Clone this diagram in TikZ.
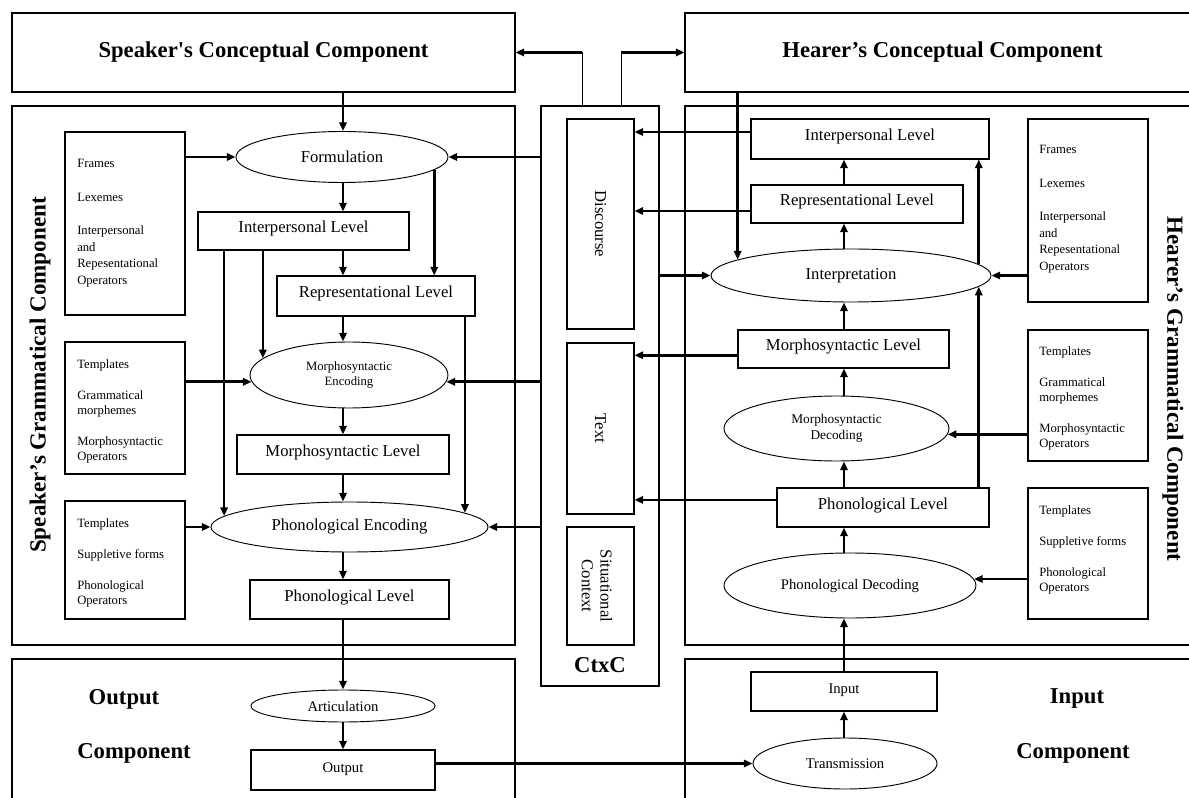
\documentclass[tikz,border=0pt]{standalone}
\usepackage{fontspec}
\setmainfont{Liberation Serif}
\usetikzlibrary{shapes.geometric,arrows.meta,calc}
\begin{document}
\begin{tikzpicture}[x=0.75pt,y=-0.75pt,
  sz/.style 2 args={minimum width=#1*0.75pt,minimum height=#2*0.75pt},
  frame/.style={draw,line width=0.8pt,rectangle,inner sep=0pt},
  ttl/.style={font=\bfseries\fontsize{17}{20}\selectfont},
  lvl/.style={draw,line width=0.8pt,rectangle,inner sep=0pt,font=\fontsize{12.5}{14}\selectfont,text height=8pt,text depth=5pt},
  ell/.style={draw,line width=0.7pt,ellipse,inner sep=0pt,align=center},
  big/.style={font=\fontsize{12.5}{14}\selectfont},
  mid/.style={font=\fontsize{11}{13}\selectfont},
  lexA/.style={anchor=north west,inner sep=0pt,align=left,font=\fontsize{9.5}{12.4}\selectfont},
  lexB/.style={anchor=north west,inner sep=0pt,align=left,font=\fontsize{9.5}{11.25}\selectfont},
  arr/.style={line width=2pt,-{Triangle[length=6.5pt,width=5.5pt]}},
  thin/.style={line width=0.8pt}]
\useasboundingbox (0,0) rectangle (1189,798);
\clip (0,0) rectangle (1189,798);

% ---------- outer frames ----------
\node[frame,sz={503}{79},ttl] (spc) at (263.5,52.5) {Speaker\textquotesingle s Conceptual Component};
\node[frame,sz={515}{79},ttl] (hcc) at (942.5,52.5) {Hearer’s Conceptual Component};
\node[frame,sz={503}{539}] (sgc) at (263.5,375.5) {};
\node[frame,sz={118}{580}] (ctxc) at (600,396) {};
\node[frame,sz={515}{539}] (hgc) at (942.5,375.5) {};
\node[frame,sz={503}{151}] (ocb) at (263.5,734.5) {};
\node[frame,sz={515}{151}] (icb) at (942.5,734.5) {};

\node[rotate=90,font=\bfseries\fontsize{17.3}{20}\selectfont] (sgcT) at (40,375) {Speaker’s Grammatical Component};
\node[rotate=-90,font=\bfseries\fontsize{17.3}{20}\selectfont] (hgcT) at (1173,389) {Hearer’s Grammatical Component};
\node[ttl] (ctxcT) at (600,665) {CtxC};
\node[ttl] (ocT1) at (124,699) {Output};
\node[ttl] (ocT2) at (134,753) {Component};
\node[ttl] (icT1) at (1077,698) {Input};
\node[ttl] (icT2) at (1073,753) {Component};

% ---------- context boxes ----------
\node[frame,sz={67}{210}] (disc) at (600.5,224) {};
\node[frame,sz={67}{171}] (textb) at (600.5,428.5) {};
\node[frame,sz={67}{118}] (sitc) at (600.5,586) {};
\node[rotate=-90,big] (discT) at (disc.center) {Discourse};
\node[rotate=-90,big] (textT) at (textb.center) {Text};
\node[rotate=-90,big,align=center] (sitT) at (597,586) {Situational\\Context};

% ---------- lexicon boxes ----------
\node[frame,sz={120}{183}] (L1) at (125,223.5) {};
\node[frame,sz={120}{132}] (L2) at (125,408) {};
\node[frame,sz={120}{118}] (L3) at (125,560) {};
\node[frame,sz={120}{183}] (R1) at (1088,210.5) {};
\node[frame,sz={120}{131}] (R2) at (1088,395.5) {};
\node[frame,sz={120}{131}] (R3) at (1088,553.5) {};

\node[lexA] (L1T) at (77,159) {Frames\\[12.75pt]Lexemes\\[12.75pt]Interpersonal\\and\\Repesentational\\Operators};
\node[lexB] (L2T) at (77,359) {Templates\\[12pt]Grammatical\\morphemes\\[12pt]Morphosyntactic\\Operators};
\node[lexB] (L3T) at (77,518) {Templates\\[12pt]Suppletive forms\\[12pt]Phonological\\Operators};
\node[lexA] (R1T) at (1039,145) {Frames\\[12.75pt]Lexemes\\[12.75pt]Interpersonal\\and\\Repesentational\\Operators};
\node[lexB] (R2T) at (1039,346) {Templates\\[12pt]Grammatical\\morphemes\\[12pt]Morphosyntactic\\Operators};
\node[lexB] (R3T) at (1039,505) {Templates\\[12pt]Suppletive forms\\[12pt]Phonological\\Operators};

% ---------- speaker side ----------
\node[ell,sz={212}{51},big] (form) at (342,157) {Formulation};
\node[lvl,sz={211}{38}] (iLL) at (303.5,231) {Interpersonal Level};
\node[lvl,sz={198}{40}] (rLL) at (376,296) {Representational Level};
\node[ell,sz={198}{66},font=\fontsize{9.5}{11.5}\selectfont] (mencE) at (349,375) {Morphosyntactic\\Encoding};
\node[lvl,sz={212}{39}] (mLL) at (343,454.5) {Morphosyntactic Level};
\node[ell,sz={277}{50},big] (pencE) at (349.5,527) {Phonological Encoding};
\node[lvl,sz={199}{39}] (pLL) at (349.5,599.5) {Phonological Level};
\node[ell,sz={184}{32},mid] (artic) at (343,706) {Articulation};
\node[lvl,sz={184}{40},mid] (outB) at (343,770) {Output};

% ---------- hearer side ----------
\node[lvl,sz={238}{40}] (iLR) at (870,139) {Interpersonal Level};
\node[lvl,sz={212}{38}] (rLR) at (857,204) {Representational Level};
\node[ell,sz={280}{53},big] (interp) at (851,275.5) {Interpretation};
\node[lvl,sz={211}{38}] (mLR) at (843.5,349) {Morphosyntactic Level};
\node[ell,sz={225}{65},font=\fontsize{10}{12}\selectfont] (mdec) at (836.5,428.5) {Morphosyntactic\\Decoding};
\node[lvl,sz={212}{39}] (pLR) at (883,507.5) {Phonological Level};
\node[ell,sz={252}{65},mid] (pdec) at (850,585.5) {Phonological Decoding};
\node[lvl,sz={186}{39},mid] (inB) at (844,691.5) {Input};
\node[ell,sz={184}{51},mid] (trans) at (845,763.5) {Transmission};

\coordinate (ls) at (343,0);
\coordinate (rs) at (844,0);

% ---------- speaker connectors ----------
\draw[arr] (spc.south -| ls) -- (form.north -| ls);
\draw[arr] (form.south -| ls) -- (iLL.north -| ls);
\draw[arr] (iLL.south -| ls) -- (rLL.north -| ls);
\draw[arr] (form.-8) -- (form.-8 |- rLL.north);
\draw[arr] (rLL.south -| ls) -- (mencE.north -| ls);
\draw[arr] (iLL.south -| mencE.169) -- (mencE.169);
\draw[arr] (iLL.south -| pencE.175) -- (pencE.175);
\draw[arr] (rLL.south -| pencE.7) -- (pencE.7);
\draw[arr] (mencE.south -| ls) -- (mLL.north -| ls);
\draw[arr] (mLL.south -| ls) -- (pencE.north -| ls);
\draw[arr] (pencE.south -| ls) -- (pLL.north -| ls);
\draw[arr] (pLL.south -| ls) -- (artic.north -| ls);
\draw[arr] (artic.south -| ls) -- (outB.north -| ls);
\draw[arr] (outB.east |- trans.west) -- (trans.west);

\draw[arr] (L1.east |- form.west) -- (form.west);
\draw[arr] (ctxc.west |- form.east) -- (form.east);
\draw[arr] (L2.east |- mencE.184) -- (mencE.184);
\draw[arr] (ctxc.west |- mencE.-4) -- (mencE.-4);
\draw[arr] (L3.east |- pencE.west) -- (pencE.west);
\draw[arr] (ctxc.west |- pencE.east) -- (pencE.east);

% ---------- context to conceptual ----------
\coordinate (c1) at ($(ctxc.north west)!0.35!(ctxc.north east)$);
\coordinate (c2) at ($(ctxc.north west)!0.68!(ctxc.north east)$);
\draw[thin] (c1) -- (c1 |- spc.east);
\draw[arr] (c1 |- spc.east) -- (spc.east);
\draw[thin] (c2) -- (c2 |- hcc.west);
\draw[arr] (c2 |- hcc.west) -- (hcc.west);

% ---------- hearer connectors ----------
\draw[arr] (trans.north -| rs) -- (inB.south -| rs);
\draw[arr] (inB.north -| rs) -- (pdec.south -| rs);
\draw[arr] (pdec.north -| rs) -- (pLR.south -| rs);
\draw[arr] (pLR.north -| rs) -- (mdec.south -| rs);
\draw[arr] (mdec.north -| rs) -- (mLR.south -| rs);
\draw[arr] (mLR.north -| rs) -- (interp.south -| rs);
\draw[arr] (interp.north -| rs) -- (rLR.south -| rs);
\draw[arr] (rLR.north -| rs) -- (iLR.south -| rs);
\draw[arr] (pLR.north -| interp.-5) -- (interp.-5);
\draw[arr] (interp.5) -- (interp.5 |- iLR.south);
\draw[arr] (hcc.south -| interp.172) -- (interp.172);

\draw[arr] (R1.west |- interp.east) -- (interp.east);
\draw[arr] (R2.west |- mdec.-3) -- (mdec.-3);
\draw[arr] (R3.west |- pdec.3) -- (pdec.3);
\draw[arr] (ctxc.east |- interp.west) -- (interp.west);

\coordinate (a1) at ($(iLR.north west)!0.33!(iLR.south west)$);
\coordinate (a2) at ($(rLR.north west)!0.68!(rLR.south west)$);
\coordinate (a3) at ($(mLR.north west)!0.66!(mLR.south west)$);
\coordinate (a4) at ($(pLR.north west)!0.31!(pLR.south west)$);
\draw[arr] (a1) -- (a1 -| disc.east);
\draw[arr] (a2) -- (a2 -| disc.east);
\draw[arr] (a3) -- (a3 -| textb.east);
\draw[arr] (a4) -- (a4 -| textb.east);
\end{tikzpicture}
\end{document}
